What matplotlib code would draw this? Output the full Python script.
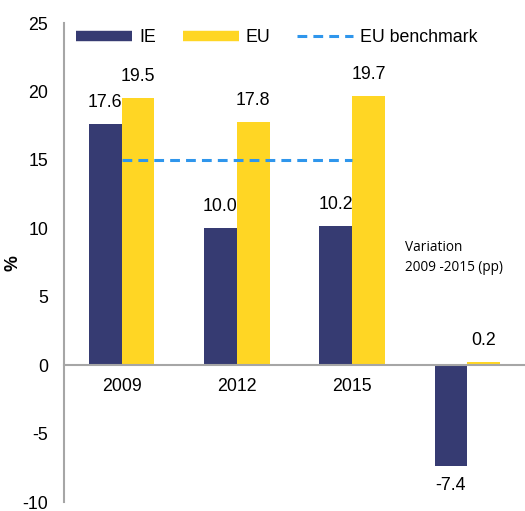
import matplotlib
matplotlib.use("Agg")
import matplotlib.pyplot as plt
from matplotlib.lines import Line2D
import numpy as np

categories = ["2009", "2012", "2015", ""]
ie_values = [17.6, 10.0, 10.2, -7.4]
eu_values = [19.5, 17.8, 19.7, 0.2]
benchmark_value = 15
benchmark_span = ["2009", "2015"]
yticks = [-10, -5, 0, 5, 10, 15, 20, 25]

IE_COL = "#363B72"
EU_COL = "#FFD624"
BM_COL = "#2F96EC"
AX_COL = "#A6A6A6"
FS = 12.8

plt.rcParams["font.family"] = ["Liberation Sans", "DejaVu Sans"]

fig = plt.figure(figsize=(5.25, 5.11), dpi=100)
ax = fig.add_axes([64/525, 9/511, 1 - 64/525, (502-23)/511])

ax.spines["top"].set_visible(False)
ax.spines["right"].set_visible(False)
ax.spines["bottom"].set_position(("data", 0))
for s in ("left", "bottom"):
    ax.spines[s].set_color(AX_COL)
    ax.spines[s].set_linewidth(1.5)
ax.spines["bottom"].set_zorder(4)

x = np.arange(len(categories))
w = 0.285
ax.bar(x - w/2, ie_values, width=w, color=IE_COL, zorder=2)
ax.bar(x + w/2, eu_values, width=w, color=EU_COL, zorder=2)

for xi, v in zip(x - w/2, ie_values):
    if v >= 0:
        ax.text(xi, v + 0.95, f"{v:.1f}", ha="center", va="bottom", fontsize=FS)
    else:
        ax.text(xi, v - 0.75, f"{v:.1f}", ha="center", va="top", fontsize=FS)
for xi, v in zip(x + w/2, eu_values):
    ax.text(xi, v + 0.95, f"{v:.1f}", ha="center", va="bottom", fontsize=FS)

i0 = categories.index(benchmark_span[0])
i1 = categories.index(benchmark_span[1])
ax.plot([x[i0], x[i1]], [benchmark_value, benchmark_value], color=BM_COL,
        lw=2.2, dashes=(3.2, 2.0), zorder=3)

ax.set_xlim(-0.5, len(categories) - 0.5)
ax.set_ylim(-10, 25)
ax.set_yticks(yticks)
ax.set_yticklabels([str(t) for t in yticks])
ax.set_xticks(x)
ax.set_xticklabels(categories)
ax.tick_params(axis="both", length=0, labelsize=FS)
ax.tick_params(axis="y", pad=11.5)
ax.tick_params(axis="x", pad=9.5)

ax.set_ylabel("%", fontsize=FS, fontweight="bold")
ax.yaxis.set_label_coords(-43/461, 0.5 - 0.5/479)

ax.text(2.46, 7.9, "Variation\n2009 -2015 (pp)", fontsize=9.8,
        family=["Open Sans", "DejaVu Sans"], ha="left", va="center", linespacing=1.45)

handles = [
    Line2D([], [], color=IE_COL, lw=7.5, solid_capstyle="butt"),
    Line2D([], [], color=EU_COL, lw=7.5, solid_capstyle="butt"),
    Line2D([], [], color=BM_COL, lw=2.2, dashes=(3.2, 2.0)),
]
fig.legend(handles, ["IE", "EU", "EU benchmark"], loc="center left",
           bbox_to_anchor=(76/525, 1 - 38/511), ncol=3, frameon=False,
           fontsize=FS, handlelength=3.15, handletextpad=0.4, columnspacing=1.5,
           borderaxespad=0, borderpad=0)

fig.savefig("out.png", dpi=100)
